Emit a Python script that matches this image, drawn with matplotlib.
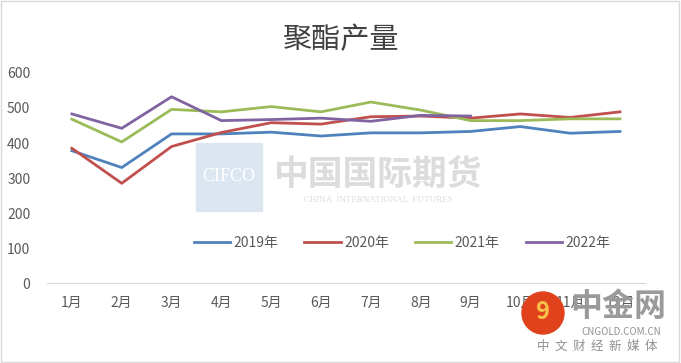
import matplotlib.pyplot as plt
from matplotlib.patches import Rectangle, Ellipse

plt.rcParams['font.family'] = ['Noto Sans CJK SC', 'DejaVu Sans']

months = ['1月', '2月', '3月', '4月', '5月', '6月', '7月', '8月', '9月', '10月', '11月', '12月']
y2019 = [378, 330, 426, 426, 431, 420, 429, 429, 433, 447, 428, 433]
y2020 = [385, 285, 390, 430, 458, 454, 475, 477, 471, 483, 473, 489]
y2021 = [468, 403, 496, 489, 504, 489, 517, 494, 464, 464, 469, 469]
y2022 = [483, 442, 532, 464, 467, 471, 462, 479, 477]
labels = ['2019年', '2020年', '2021年', '2022年']
colors = ['#4F81BD', '#C0504D', '#9BBB59', '#8064A2']

W, H = 681, 363
fig = plt.figure(figsize=(W / 100, H / 100), dpi=100)
ax = fig.add_axes([0.069, 0.22, 0.878, 0.579])

# watermark
fig.patches.append(Rectangle((0.288, 0.42), 0.097, 0.185, transform=fig.transFigure,
                             color='#dce6f0', zorder=0))
fig.text(0.336, 0.515, 'CIFCO', fontsize=13, color='white', ha='center', va='center',
         family='Liberation Serif', zorder=1)
fig.text(0.555, 0.52, '中国国际期货', fontsize=25, color='#dcdcdc', ha='center', va='center',
         fontweight='bold', zorder=1)
fig.text(0.555, 0.45, 'CHINA  INTERNATIONAL  FUTURES', fontsize=6.5, color='#dcdcdc',
         ha='center', va='center', family='Liberation Serif', zorder=1)

for vals, lab, c in zip([y2019, y2020, y2021, y2022], labels, colors):
    ax.plot(range(len(vals)), vals, color=c, lw=2.0, label=lab, zorder=3)

ax.set_xlim(-0.5, 11.5)
ax.set_ylim(0, 600)
ax.set_yticks(range(0, 601, 100))
ax.set_xticks(range(len(months)))
ax.set_xticklabels(months)
ax.tick_params(axis='both', length=0, labelsize=10, labelcolor='#595959')
ax.tick_params(axis='x', pad=9)
ax.tick_params(axis='y', pad=12)
for s in ['top', 'right', 'left']:
    ax.spines[s].set_visible(False)
ax.spines['bottom'].set_color('#d9d9d9')
ax.patch.set_alpha(0)

ax.legend(loc='center', bbox_to_anchor=(0.594, 0.19), ncol=4, frameon=False, fontsize=10,
          handlelength=2.6, handletextpad=0.25, columnspacing=1.9, labelcolor='#595959')

fig.text(0.5, 0.89, '聚酯产量', fontsize=21, color='#404040', ha='center', va='center')

# cngold logo (covers part of the last tick labels, as in the source image)
fig.patches.append(Ellipse((543 / W, 1 - 313 / H), 42 / W, 42 / H, transform=fig.transFigure,
                           color='#e0431c', zorder=5))
fig.text(543 / W, 1 - 312 / H, '9', fontsize=17, color='#f7c04a', ha='center', va='center',
         fontweight='bold', zorder=6)
fig.text(618 / W, 1 - 307 / H, '中金网', fontsize=23, color='#9a9a9a', ha='center',
         va='center', fontweight='bold', zorder=6)
fig.text(621 / W, 1 - 332 / H, 'CNGOLD.COM.CN', fontsize=7, color='#909090', ha='center',
         va='center', zorder=6)
fig.text(597 / W, 1 - 346 / H, '中  文  财  经  新  媒  体', fontsize=9, color='#909090',
         ha='center', va='center', zorder=6)

fig.patches.append(Rectangle((0.002, 0.003), 0.995, 0.993, transform=fig.transFigure,
                             fill=False, edgecolor='#d9d9d9', lw=1))

fig.savefig('out.png', dpi=100)
